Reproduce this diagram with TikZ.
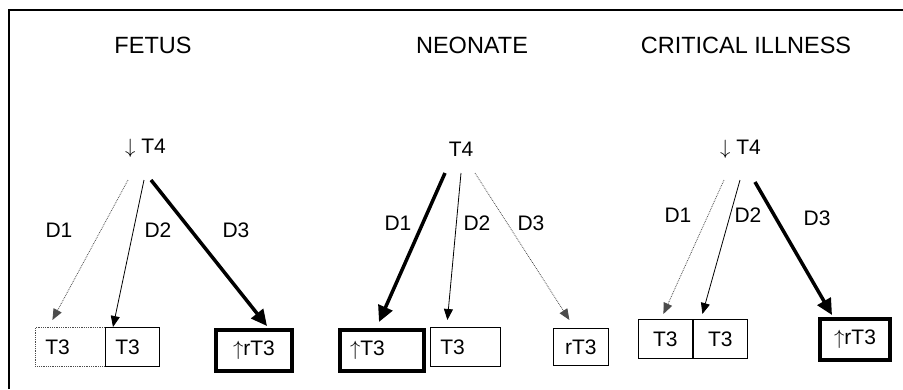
\documentclass[tikz,border=0pt]{standalone}
\usepackage{fontspec}
\setmainfont{Liberation Sans}
\usetikzlibrary{arrows.meta}
\tikzset{
	lbl/.style={inner sep=0pt, font=\fontsize{21bp}{24bp}\selectfont},
	ttl/.style={inner sep=0pt, font=\fontsize{23.5bp}{28bp}\selectfont},
	tbox/.style={draw, line width=0.8bp, anchor=north west, inner xsep=10bp, inner ysep=0pt,
		minimum height=39bp, text width=#1, align=left, font=\fontsize{21bp}{24bp}\selectfont},
	hbox/.style={tbox=#1, line width=4bp, minimum height=41bp, align=center},
	thinarr/.style={line width=0.8bp, -{Triangle[length=11bp,width=9bp]}},
	dotarr/.style={thinarr, densely dotted, draw=black!70},
	fatarr/.style={line width=3.5bp, -{Triangle[length=16bp,width=15bp]}},
}

\begin{document}
\begin{tikzpicture}[x=1bp, y=-1bp]
			%%%%% START %%%%%
			\useasboundingbox (0,0) rectangle (903,389);
			\draw[line width=2bp] (9,389) -- (9,10) -- (903,10);
			
			\node[ttl] (tfetus) at (153,45) {FETUS};
			\node[ttl] (tneo) at (472,45) {NEONATE};
			\node[ttl] (tcrit) at (746,45) {CRITICAL ILLNESS};
			
			% fetus
			\node[lbl] (f0) at (145.5,148) {$\downarrow$ T4};
			\coordinate (f1) at (128,180);
			\coordinate (f2) at (144,180);
			\coordinate (f3) at (151,180);
			\node[tbox=50bp, densely dotted, draw=black!70] (fa) at (35,327) {T3};
			\node[tbox=34bp] (fb) at (105,327) {T3};
			\node[hbox=56bp] (fc) at (214,328) {$\uparrow$rT3};
			\draw[dotarr] (f1) -- ([xshift=-18bp,yshift=7bp]fa.north);
			\draw[thinarr] (f2) -- ([xshift=8bp]fb.north west);
			\draw[fatarr] (f3) -- ([xshift=13bp,yshift=2bp]fc.north);
			\node[lbl] (fd1) at (59,230) {D1};
			\node[lbl] (fd2) at (158,230) {D2};
			\node[lbl] (fd3) at (236,230) {D3};
			
			% neonate
			\node[lbl] (n0) at (461,149) {T4};
			\coordinate (n1) at (445,173);
			\coordinate (n2) at (461,173);
			\coordinate (n3) at (475,173);
			\node[hbox=64bp, align=left] (na) at (338,328) {$\uparrow$T3};
			\node[tbox=50bp] (nb) at (430,327) {T3};
			\node[tbox=35bp, minimum height=37bp, align=center] (nc) at (553,328) {rT3};
			\draw[fatarr] (n1) -- ([xshift=-3bp,yshift=6bp]na.north);
			\draw[thinarr] (n2) -- ([xshift=-18bp,yshift=7bp]nb.north);
			\draw[dotarr] (n3) -- ([xshift=-11.5bp,yshift=8bp]nc.north);
			\node[lbl] (nd1) at (398,223) {D1};
			\node[lbl] (nd2) at (477,223) {D2};
			\node[lbl] (nd3) at (531,223) {D3};
			
			% critical illness
			\node[lbl] (c0) at (740.5,149) {$\downarrow$ T4};
			\coordinate (c1) at (724,180);
			\coordinate (c2) at (740,180);
			\coordinate (c3) at (755,182);
			\node[tbox=34bp, align=center] (ca) at (638,319) {T3};
			\node[tbox=34bp, align=center] (cb) at (693,319) {T3};
			\node[hbox=50bp] (cc) at (818,317) {$\uparrow$rT3};
			\draw[dotarr] (c1) -- ([xshift=-2bp,yshift=5bp]ca.north);
			\draw[thinarr] (c2) -- ([xshift=-18bp,yshift=5bp]cb.north);
			\draw[fatarr] (c3) -- ([xshift=-23bp,yshift=2bp]cc.north);
			\node[lbl] (cd1) at (678,215) {D1};
			\node[lbl] (cd2) at (748,215) {D2};
			\node[lbl] (cd3) at (817,218) {D3};
			%%%%% END %%%%%
\end{tikzpicture}
\end{document}
